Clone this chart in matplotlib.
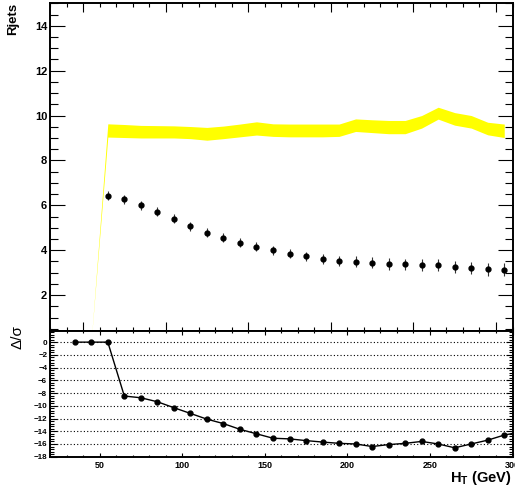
import matplotlib
matplotlib.use("Agg")
import matplotlib.pyplot as plt
import numpy as np
from matplotlib.ticker import MultipleLocator, FixedLocator

plt.rcParams['font.family'] = ['Liberation Sans', 'DejaVu Sans']
plt.rcParams['mathtext.fontset'] = 'custom'
plt.rcParams['mathtext.rm'] = 'Liberation Sans'
plt.rcParams['mathtext.bf'] = 'Liberation Sans:bold'

# yellow prediction band (lower / upper edge)
band_x = [45, 55, 65, 75, 85, 95, 105, 115, 125, 135, 145, 155, 165, 175, 185,
          195, 205, 215, 225, 235, 245, 255, 265, 275, 285, 295]
band_lo = [0.0, 9.04, 9.02, 9.0, 9.0, 9.0, 8.97, 8.9, 8.97, 9.05, 9.13, 9.07, 9.05,
           9.05, 9.05, 9.07, 9.29, 9.24, 9.19, 9.19, 9.44, 9.84, 9.57, 9.44, 9.14, 9.02]
band_hi = [0.0, 9.63, 9.60, 9.56, 9.55, 9.54, 9.51, 9.47, 9.53, 9.62, 9.72, 9.63, 9.62,
           9.62, 9.62, 9.62, 9.85, 9.81, 9.78, 9.78, 10.0, 10.37, 10.13, 10.0, 9.7, 9.62]

# data points
pt_x = [55, 65, 75, 85, 95, 105, 115, 125, 135, 145, 155, 165, 175, 185, 195,
        205, 215, 225, 235, 245, 255, 265, 275, 285, 295]
pt_y = [6.43, 6.28, 6.0, 5.71, 5.41, 5.07, 4.77, 4.55, 4.33, 4.16, 3.99, 3.85, 3.72,
        3.61, 3.51, 3.48, 3.44, 3.39, 3.37, 3.35, 3.33, 3.26, 3.20, 3.15, 3.13]
pt_err = [0.2, 0.2, 0.2, 0.2, 0.2, 0.2, 0.2, 0.2, 0.2, 0.2, 0.2, 0.2, 0.22, 0.22, 0.22,
          0.24, 0.24, 0.25, 0.25, 0.27, 0.27, 0.28, 0.28, 0.29, 0.3]

# pull (delta / sigma)
pull_x = [35, 45, 55, 65, 75, 85, 95, 105, 115, 125, 135, 145, 155, 165, 175, 185,
          195, 205, 215, 225, 235, 245, 255, 265, 275, 285, 295, 305]
pull_y = [0, 0, 0, -8.47, -8.74, -9.37, -10.3, -11.2, -12.1, -12.8, -13.7, -14.4,
          -15.1, -15.2, -15.47, -15.7, -15.9, -16.0, -16.4, -16.1, -15.9, -15.6,
          -16.0, -16.6, -16.0, -15.4, -14.6, -14.1]

W, H = 515, 494
fig = plt.figure(figsize=(W / 100, H / 100), dpi=100)

x0, x1 = 50 / W, 512.5 / W
ybot_top = 1 - 331 / H
ax = fig.add_axes([x0, ybot_top, x1 - x0, (1 - 3.3 / H) - ybot_top])
ax2 = fig.add_axes([x0, 1 - 456.7 / H, x1 - x0, ybot_top - (1 - 456.7 / H)])

# top panel
ax.fill_between(band_x, band_lo, band_hi, color='#ffff00', lw=0, zorder=1)
ax.errorbar(pt_x, pt_y, yerr=pt_err, fmt='o', color='black', ms=3.5,
            elinewidth=0.8, ecolor='#333333', capsize=0, zorder=3)
ax.set_xlim(20, 300)
ax.set_ylim(0.4, 15)
ax.xaxis.set_major_locator(FixedLocator(np.arange(40, 300, 50)))
ax.xaxis.set_minor_locator(MultipleLocator(10))
ax.yaxis.set_major_locator(MultipleLocator(2))
ax.yaxis.set_minor_locator(MultipleLocator(0.5))
ax.tick_params(axis='x', which='major', direction='in', top=True, bottom=True,
               length=6.5, width=0.8, labelbottom=False)
ax.tick_params(axis='x', which='minor', direction='in', top=True, bottom=True,
               length=3, width=0.8)
ax.tick_params(axis='y', which='major', direction='in', left=True, right=True,
               length=10.5, width=0.8, labelsize=8, pad=2)
ax.tick_params(axis='y', which='minor', direction='in', left=True, right=True,
               length=5.5, width=0.8)
for lab in ax.get_yticklabels():
    lab.set_fontweight('bold')
for s in ax.spines.values():
    s.set_linewidth(1.4)

# bottom panel
ax2.plot(pull_x, pull_y, '-o', color='black', lw=1.0, ms=3.5, zorder=3)
ax2.set_xlim(20, 300)
ax2.set_ylim(-18, 1.75)
ax2.xaxis.set_major_locator(MultipleLocator(50))
ax2.xaxis.set_minor_locator(MultipleLocator(10))
ax2.yaxis.set_major_locator(MultipleLocator(2))
ax2.yaxis.set_minor_locator(MultipleLocator(0.4))
ax2.grid(axis='y', which='major', color='black', linestyle=(0, (1, 2)), lw=0.8)
ax2.set_axisbelow(True)
ax2.tick_params(axis='x', which='major', direction='in', top=True, bottom=True,
                length=3, width=0.8, labelsize=6.5, pad=3)
ax2.tick_params(axis='x', which='minor', direction='in', top=True, bottom=True,
                length=1.5, width=0.8)
ax2.tick_params(axis='y', which='major', direction='in', left=True, right=True,
                length=5, width=0.8, labelsize=5.8, pad=2)
ax2.tick_params(axis='y', which='minor', direction='in', left=True, right=True,
                length=2.8, width=0.8)
for lab in ax2.get_yticklabels() + ax2.get_xticklabels():
    lab.set_fontweight('bold')
for s in ax2.spines.values():
    s.set_linewidth(1.4)

fig.text(13 / W, 1 - 3 / H, 'Rjets', rotation=90, ha='center', va='top',
         fontsize=9.5, fontweight='bold')
fig.text(17 / W, 1 - 337 / H, 'Δ/σ', rotation=90, ha='center', va='center',
         fontsize=11)
fig.text(511.5 / W, 1 - 478 / H, r'$\mathbf{H_{T}}$ (GeV)', ha='right', va='center',
         fontsize=10.5, fontweight='bold')

fig.savefig('out.png', dpi=100)
